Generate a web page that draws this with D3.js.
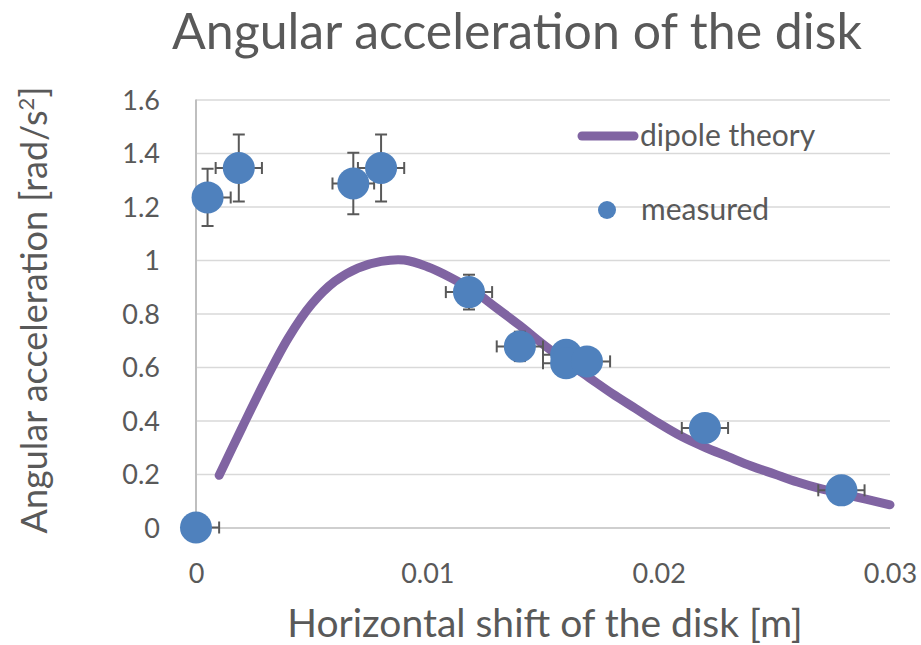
<!DOCTYPE html>
<html>
<head>
<meta charset="utf-8">
<script src="https://cdn.jsdelivr.net/npm/d3@7"></script>
<style>
  html, body { margin: 0; padding: 0; background: #fff; }
  svg text { font-family: Lato, "Open Sans", sans-serif; fill: #595959; }
</style>
</head>
<body>
<svg id="chart" width="921" height="645"></svg>
<script>
// ---- data ----
const theoryX = [0.001,0.002,0.003,0.004,0.005,0.006,0.007,0.008,0.009,0.010,0.011,0.012,0.013,0.014,0.015,0.016,0.017,0.018,0.019,0.020,0.021,0.022,0.023,0.024,0.025,0.026,0.027,0.028,0.029,0.030];
const theoryY = [0.195,0.375,0.55,0.71,0.835,0.92,0.97,0.995,1.0,0.975,0.935,0.885,0.82,0.755,0.685,0.62,0.56,0.5,0.445,0.39,0.34,0.30,0.265,0.23,0.20,0.17,0.145,0.125,0.105,0.085];

const measX = [0, 0.0005, 0.00185, 0.0068, 0.008, 0.0118, 0.014, 0.016, 0.016, 0.0169, 0.022, 0.0279];
const measY = [0, 1.234, 1.344, 1.286, 1.344, 0.88, 0.677, 0.646, 0.614, 0.621, 0.372, 0.139];
const errX  = [0.001, 0.001, 0.001, 0.0009, 0.001, 0.001, 0.001, 0.001, 0.001, 0.001, 0.001, 0.001];
const errY  = [0, 0.107, 0.125, 0.115, 0.125, 0.065, 0.055, 0.05, 0.05, 0.05, 0.05, 0.05];

const xTicks = [0, 0.01, 0.02, 0.03];
const xTickLabels = ["0", "0.01", "0.02", "0.03"];
const yTicks = [0, 0.2, 0.4, 0.6, 0.8, 1.0, 1.2, 1.4, 1.6];
const yTickLabels = ["0", "0.2", "0.4", "0.6", "0.8", "1", "1.2", "1.4", "1.6"];

const titleText = "Angular acceleration of the disk";
const xTitleText = "Horizontal shift of the disk [m]";
const seriesNames = ["dipole theory", "measured"];

// ---- layout ----
const L = 196, R = 890, T = 99.5, B = 527.5;
const TEXT = "#595959", GRID = "#D9D9D9", AXIS = "#BFBFBF";
const PURPLE = "#8064A2", BLUE = "#4F81BD", ERR = "#595959";

const svg = d3.select("#chart");
const x = d3.scaleLinear().domain([0, 0.03]).range([L, R]);
const y = d3.scaleLinear().domain([0, 1.6]).range([B, T]);

svg.append("defs").append("clipPath").attr("id", "plotclip")
  .append("rect").attr("x", L).attr("y", T - 40).attr("width", R - L).attr("height", B - T + 80);

// gridlines + y tick labels
const yAxis = d3.axisLeft(y).tickValues(yTicks).tickSize(-(R - L)).tickFormat((d, i) => yTickLabels[i]).tickPadding(36);
const gy = svg.append("g").attr("transform", `translate(${L},0)`).call(yAxis);
gy.select(".domain").remove();
gy.selectAll(".tick line").attr("stroke", GRID).attr("stroke-width", 1.6);
gy.selectAll(".tick text").attr("font-size", 27).attr("fill", TEXT).attr("dy", "0.36em")
  .style("font-family", "Lato, sans-serif");
gy.selectAll(".tick").filter(d => d === 0).select("line").attr("stroke", AXIS);

// x axis labels
const xAxis = d3.axisBottom(x).tickValues(xTicks).tickSize(0).tickFormat((d, i) => xTickLabels[i]).tickPadding(0);
const gx = svg.append("g").attr("transform", `translate(0,${B})`).call(xAxis);
gx.select(".domain").remove();
gx.selectAll(".tick text").attr("font-size", 27).attr("fill", TEXT).attr("dy", null).attr("y", 55)
  .style("font-family", "Lato, sans-serif");

// y axis line
svg.append("line").attr("x1", L).attr("x2", L).attr("y1", T).attr("y2", B)
  .attr("stroke", AXIS).attr("stroke-width", 2);

// theory line
const pts = theoryX.map((v, i) => [v, theoryY[i]]);
svg.append("path").datum(pts)
  .attr("fill", "none").attr("stroke", PURPLE).attr("stroke-width", 9)
  .attr("stroke-linecap", "round").attr("stroke-linejoin", "round")
  .attr("d", d3.line().x(d => x(d[0])).y(d => y(d[1])).curve(d3.curveCatmullRom.alpha(0.5)));

// error bars
const meas = measX.map((v, i) => ({x: v, y: measY[i], ex: errX[i], ey: errY[i]}));
const cap = 6;
const eg = svg.append("g").attr("clip-path", "url(#plotclip)")
  .attr("stroke", ERR).attr("stroke-width", 2).attr("fill", "none");
meas.forEach(d => {
  const cx = x(d.x), cy = y(d.y);
  const x0 = x(d.x - d.ex), x1 = x(d.x + d.ex);
  eg.append("line").attr("x1", x0).attr("x2", x1).attr("y1", cy).attr("y2", cy);
  eg.append("line").attr("x1", x0).attr("x2", x0).attr("y1", cy - cap).attr("y2", cy + cap);
  eg.append("line").attr("x1", x1).attr("x2", x1).attr("y1", cy - cap).attr("y2", cy + cap);
  if (d.ey > 0) {
    const y0 = y(d.y - d.ey), y1 = y(d.y + d.ey);
    eg.append("line").attr("x1", cx).attr("x2", cx).attr("y1", y0).attr("y2", y1);
    eg.append("line").attr("x1", cx - cap).attr("x2", cx + cap).attr("y1", y0).attr("y2", y0);
    eg.append("line").attr("x1", cx - cap).attr("x2", cx + cap).attr("y1", y1).attr("y2", y1);
  }
});

// markers
svg.append("g").selectAll("circle").data(meas).join("circle")
  .attr("cx", d => x(d.x)).attr("cy", d => y(d.y)).attr("r", 16)
  .attr("fill", BLUE);

// legend
const lg = svg.append("g");
lg.append("line").attr("x1", 582).attr("x2", 634).attr("y1", 136).attr("y2", 136)
  .attr("stroke", PURPLE).attr("stroke-width", 9).attr("stroke-linecap", "round");
lg.append("text").attr("x", 640).attr("y", 146).attr("font-size", 30).text(seriesNames[0]);
lg.append("circle").attr("cx", 607).attr("cy", 210).attr("r", 9).attr("fill", BLUE);
lg.append("text").attr("x", 641).attr("y", 220).attr("font-size", 30).text(seriesNames[1]);

// titles
svg.append("text").attr("x", 517).attr("y", 49).attr("text-anchor", "middle")
  .attr("font-size", 50).text(titleText);
svg.append("text").attr("x", 545).attr("y", 637).attr("text-anchor", "middle")
  .attr("font-size", 39).text(xTitleText);
const yt = svg.append("text").attr("transform", "translate(47,310) rotate(-90)")
  .attr("text-anchor", "middle").attr("font-size", 36);
yt.append("tspan").text("Angular acceleration [rad/s");
yt.append("tspan").attr("font-size", 22).attr("dy", -13).text("2");
yt.append("tspan").attr("dy", 13).text("]");
</script>
</body>
</html>
